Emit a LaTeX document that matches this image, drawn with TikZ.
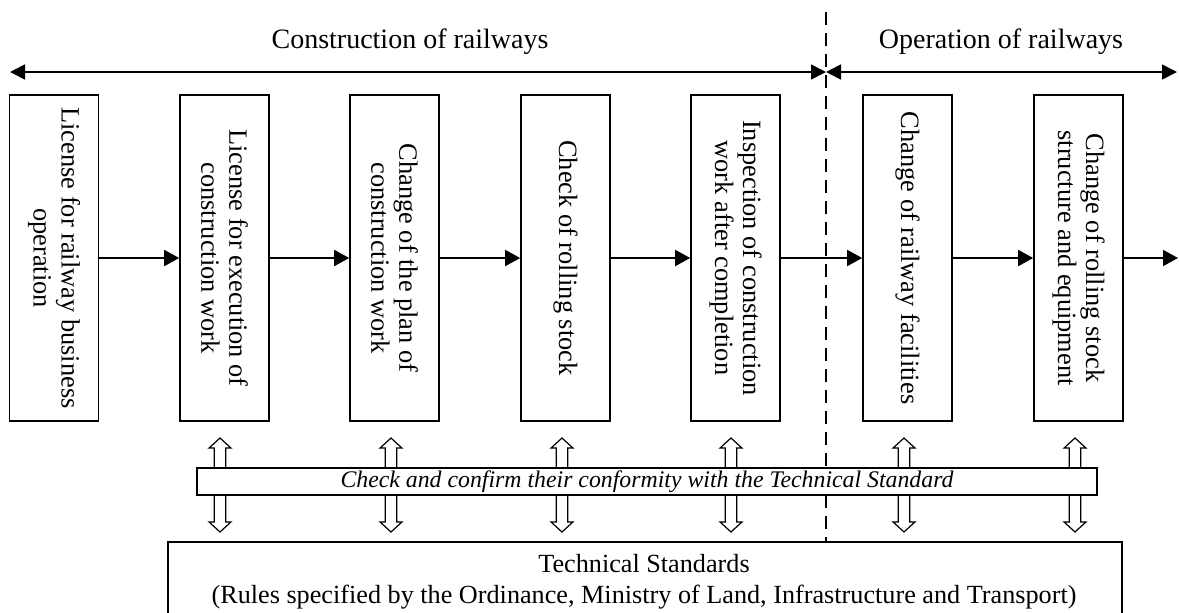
\documentclass[tikz,border=0pt]{standalone}
\usepackage{fontspec}
\setmainfont{Liberation Serif}
\usetikzlibrary{arrows.meta,shapes.arrows}
\tikzset{
  stepbox/.style={draw, line width=0.8pt, rotate=-90, minimum width=163pt, minimum height=44.5pt,
    align=center, inner sep=1pt, font=\fontsize{13.2}{14}\selectfont},
  phase/.style={font=\fontsize{14}{16}\selectfont, inner sep=0pt},
  span/.style={line width=0.8pt, {Triangle[length=7.5pt,width=7.5pt]}-{Triangle[length=7.5pt,width=7.5pt]}},
  flow/.style={line width=0.8pt, -{Triangle[length=7.5pt,width=8pt]}},
  divider/.style={line width=1.4pt, dash pattern=on 6.5pt off 4pt},
  checkarrow/.style={double arrow, draw, line width=0.6pt, fill=white, rotate=90, minimum height=47pt,
    inner xsep=0pt, inner ysep=2.6pt, double arrow head extend=2.6pt, double arrow tip angle=95},
  band/.style={draw, fill=white, line width=0.8pt, minimum width=450pt, minimum height=13.5pt,
    inner sep=0pt, font=\fontsize{11.9}{14}\selectfont\itshape},
  stdbox/.style={draw, fill=white, line width=0.8pt, minimum width=477pt, minimum height=39pt},
  stdtext/.style={align=center, inner sep=0pt, font=\fontsize{13.1}{15.5}\selectfont},
}
\begin{document}
\begin{tikzpicture}[x=0.5pt,y=-0.5pt]
\useasboundingbox (0,0) rectangle (1179,612);
% phases of the railway
\node[phase] (build) at (410,42) {Construction of railways};
\node[phase] (run) at (1001,42) {Operation of railways};
\coordinate (left) at (10,72);
\coordinate (div) at (826,72);
\coordinate (right) at (1177,72);
\draw[span] (left) -- (div);
\draw[span] (div) -- (right);

% procedures
\node[stepbox] (s1) at (54,258) {License for railway business\\operation};
\node[stepbox] (s2) at (224.5,258) {License for execution of\\construction work};
\node[stepbox] (s3) at (394.5,258) {Change of the plan of\\construction work};
\node[stepbox] (s4) at (565.5,258) {Check of rolling stock};
\node[stepbox] (s5) at (735.5,258) {Inspection of construction\\work after completion};
\node[stepbox] (s6) at (907.5,258) {Change of railway facilities};
\node[stepbox] (s7) at (1078.5,258) {Change of rolling stock\\structure and equipment};
\coordinate (end) at (1178,258);
\draw[flow] (s1) -- (s2);
\draw[flow] (s2) -- (s3);
\draw[flow] (s3) -- (s4);
\draw[flow] (s4) -- (s5);
\draw[flow] (s5) -- (s6);
\draw[flow] (s6) -- (s7);
\draw[flow] (s7) -- (end);

% standards
\node[stdbox] (std) at (645,581) {};
\node[stdtext] (stdlabel) at (644,582) {Technical Standards\\(Rules specified by the Ordinance, Ministry of Land, Infrastructure and Transport)};
\coordinate (divtop) at (826,12);
\draw[divider] (divtop) -- (divtop |- std.north);

% conformity checks
\node[checkarrow] (c2) at (220,485) {};
\node[checkarrow] (c3) at (391,485) {};
\node[checkarrow] (c4) at (562,485) {};
\node[checkarrow] (c5) at (731,485) {};
\node[checkarrow] (c6) at (904,485) {};
\node[checkarrow] (c7) at (1075,485) {};
\node[band] (check) at (647,481.5) {Check and confirm their conformity with the Technical Standard};
\end{tikzpicture}
\end{document}
